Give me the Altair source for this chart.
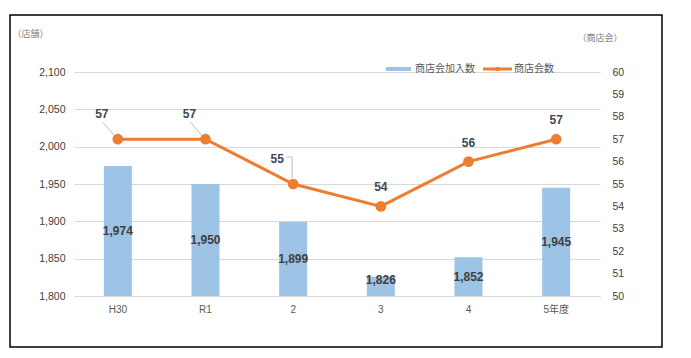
import altair as alt
import pandas as pd

categories = ["H30", "R1", "2", "3", "4", "5年度"]
members = [1974, 1950, 1899, 1826, 1852, 1945]
associations = [57, 57, 55, 54, 56, 57]

df = pd.DataFrame({"cat": categories, "members": members, "assoc": associations,
                   "idx": list(range(len(categories)))})
one = pd.DataFrame({"a": [0]})

FONT = "Liberation Sans, Noto Sans CJK JP"
BLUE = "#9DC3E6"
ORANGE = "#ED7D31"
LABEL = "#404040"
LINE_LABEL = "#3E4756"

xenc = alt.X("cat:N", sort=categories, title=None,
             scale=alt.Scale(paddingInner=0, paddingOuter=0),
             axis=alt.Axis(labelAngle=0, ticks=False, domainColor="#D9D9D9",
                           labelColor="#595959", labelFontSize=10, labelPadding=8,
                           grid=False))

left_axis = alt.Axis(values=[1800, 1850, 1900, 1950, 2000, 2050, 2100], format=",.0f",
                     grid=True, gridColor="#D9D9D9", domain=False, ticks=False,
                     labelColor="#404040", labelFontSize=10.5, labelPadding=9,
                     title="（店舗）", titleAngle=0, titleX=-62, titleY=-39,
                     titleAlign="left", titleBaseline="middle", titleFontSize=9,
                     titleColor="#808080", titleFontWeight="normal")
yleft = alt.Scale(domain=[1800, 2100], zero=False, nice=False)

right_axis = alt.Axis(orient="right", values=list(range(50, 61)), grid=False,
                      domain=False, ticks=False, labelColor="#404040",
                      labelFontSize=10.5, labelPadding=12,
                      title="（商店会）", titleAngle=0, titleX=-23, titleY=-35,
                      titleAlign="left", titleBaseline="middle", titleFontSize=9,
                      titleColor="#808080", titleFontWeight="normal")
yright = alt.Scale(domain=[50, 60], zero=False, nice=False)

base = alt.Chart(df)

bars = base.mark_bar(color=BLUE, size=28).encode(
    x=xenc,
    y=alt.Y("members:Q", scale=yleft, axis=left_axis, title="（店舗）"),
    y2=alt.datum(1800),
)
bar_labels = base.transform_calculate(
    ly="max((datum.members + 1800) / 2, 1822)"
).mark_text(fontSize=12, fontWeight="bold", color=LABEL, baseline="middle").encode(
    x=xenc,
    y=alt.Y("ly:Q", scale=yleft, axis=left_axis, title="（店舗）"),
    text=alt.Text("members:Q", format=",.0f"),
)

border = alt.Chart(one).mark_rect(fillOpacity=0, stroke="black", strokeWidth=1.5).encode(
    x=alt.value(-64), x2=alt.value(588), y=alt.value(-57), y2=alt.value(275))

leg_rect = alt.Chart(one).mark_rect(color=BLUE).encode(
    x=alt.value(312), x2=alt.value(337), y=alt.value(-5), y2=alt.value(-1))
leg_text1 = alt.Chart(one).mark_text(align="left", baseline="middle", fontSize=10,
                                     color="#595959").encode(
    x=alt.value(341), y=alt.value(-3), text=alt.value("商店会加入数"))
leg_line = alt.Chart(one).mark_rule(color=ORANGE, strokeWidth=3).encode(
    x=alt.value(409), x2=alt.value(438), y=alt.value(-3))
leg_dot = alt.Chart(one).mark_point(color=ORANGE, filled=True, size=20, opacity=1).encode(
    x=alt.value(423.5), y=alt.value(-3))
leg_text2 = alt.Chart(one).mark_text(align="left", baseline="middle", fontSize=10,
                                     color="#595959").encode(
    x=alt.value(440), y=alt.value(-3), text=alt.value("商店会数"))

left_group = alt.layer(bars, bar_labels, border, leg_rect, leg_text1, leg_line,
                       leg_dot, leg_text2)

ry = alt.Y("assoc:Q", scale=yright, axis=right_axis, title="（商店会）")

line = base.mark_line(color=ORANGE, strokeWidth=3).encode(x=xenc, y=ry)
points = base.mark_point(color=ORANGE, filled=True, size=115, opacity=1).encode(x=xenc, y=ry)

lab_shift = base.transform_filter("datum.idx < 3").mark_text(
    fontSize=12, fontWeight="bold", color=LINE_LABEL, dx=-16, dy=-25, baseline="middle"
).encode(x=xenc, y=ry, text="assoc:Q")
lab_up = base.transform_filter("datum.idx >= 3").mark_text(
    fontSize=12, fontWeight="bold", color=LINE_LABEL, dy=-19, baseline="middle"
).encode(x=xenc, y=ry, text="assoc:Q")

x2enc = alt.X2("cat:N", bandPosition=0.5)
xlead = alt.X("cat:N", sort=categories, bandPosition=0.5, title=None,
              scale=alt.Scale(paddingInner=0, paddingOuter=0))
lead_diag = base.transform_filter("datum.idx < 2").mark_rule(
    color="#BFBFBF", strokeWidth=1, xOffset=-15, x2Offset=-3, yOffset=-17, y2Offset=-3
).encode(x=xlead, x2=x2enc, y=ry, y2="assoc:Q")
lead_h = base.transform_filter("datum.idx == 2").mark_rule(
    color="#BFBFBF", strokeWidth=1, xOffset=-7, x2Offset=-1, yOffset=-27, y2Offset=-27
).encode(x=xlead, x2=x2enc, y=ry, y2="assoc:Q")
lead_v = base.transform_filter("datum.idx == 2").mark_rule(
    color="#BFBFBF", strokeWidth=1, xOffset=-1, x2Offset=-1, yOffset=-27, y2Offset=-6
).encode(x=xlead, x2=x2enc, y=ry, y2="assoc:Q")

right_group = alt.layer(lead_diag, lead_h, lead_v, line, points, lab_shift, lab_up)

chart = alt.layer(left_group, right_group).resolve_scale(y="independent").properties(
    width=526, height=224,
    autosize=alt.AutoSizeParams(type="none"),
    padding={"left": 66, "top": 64, "right": 83, "bottom": 54},
).configure(font=FONT).configure_view(stroke=None)

chart.save("out.html", embed_options={"renderer": "svg", "actions": False})
